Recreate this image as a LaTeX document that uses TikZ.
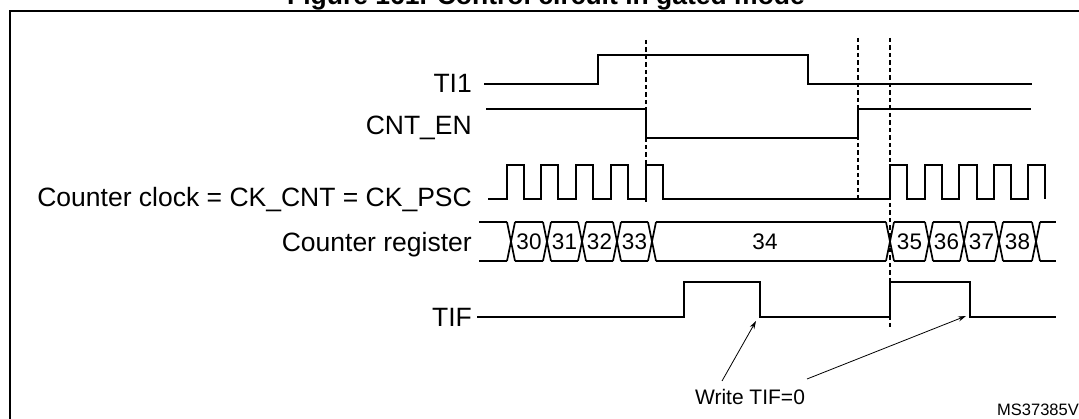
\documentclass[tikz,border=0pt]{standalone}
\usepackage{fontspec}
\setmainfont{Liberation Sans}
\usetikzlibrary{arrows.meta}
\begin{document}
\begin{tikzpicture}[x=1pt,y=-1pt,
  wave/.style={line width=1.7pt, line join=miter},
  guide/.style={line width=1.2pt, dash pattern=on 4.5pt off 3pt},
  framestyle/.style={line width=2pt},
  siglabel/.style={anchor=base east, inner sep=0pt, font=\fontsize{26.5}{30}\selectfont},
  cell/.style={inner sep=0pt, font=\fontsize{22.5}{26}\selectfont},
  notearrow/.style={-{Stealth[length=8pt,width=5pt]}, line width=0.8pt}]
\useasboundingbox (0,0) rectangle (1079,419);
\clip (0,0) rectangle (1079,419);

% title and frame
\node[anchor=base, inner sep=0pt, font=\fontsize{26.5}{30}\selectfont\bfseries] (title) at (546,5) {Figure 161. Control circuit in gated mode};
\draw[framestyle] (10,430) -- (10,11.5) -- (1090,11.5);

% signal labels
\node[siglabel] (lti) at (472,93) {TI1};
\node[siglabel] (len) at (472,135) {CNT\_EN};
\node[siglabel] (lck) at (472,207) {Counter clock = CK\_CNT = CK\_PSC};
\node[siglabel] (lreg) at (472,252) {Counter register};
\node[siglabel] (ltif) at (472,327) {TIF};

% guide lines
\draw[guide] (646,40) -- (646,203);
\draw[guide] (858,38) -- (858,200);
\draw[guide] (890,38) -- (890,330);

% TI1
\draw[wave] (484,84) -- (598,84) -- (598,55) -- (808,55) -- (808,84) -- (1032,84);
% CNT_EN
\draw[wave] (486,109) -- (646,109) -- (646,138) -- (858,138) -- (858,109) -- (1031,109);
% clock
\draw[wave] (488,199)
  foreach \r/\f in {507/524,541/558,576/593,611/628,646/663} { -- (\r,199) -- (\r,165) -- (\f,165) -- (\f,199) }
  foreach \r/\f in {890/907,925/942,959/977,994/1011,1028/1045} { -- (\r,199) -- (\r,165) -- (\f,165) -- (\f,199) };
% counter register
\def\hw{4}
\draw[wave] (479,222) -- (507,222) (479,261) -- (507,261);
\foreach \a/\b in {511/547,547/582,582/617,617/652,652/890,890/929,929/964,964/999,999/1036}
  \draw[wave] (\a+\hw,222) -- (\b-\hw,222) (\a+\hw,261) -- (\b-\hw,261);
\foreach \c in {511,547,582,617,652,890,929,964,999,1036}
  \draw[wave] (\c-\hw,222) -- (\c+\hw,261) (\c-\hw,261) -- (\c+\hw,222);
\draw[wave] (1040,222) -- (1056,222) (1040,261) -- (1056,261);
\node[cell] (c30) at (529,242) {30};
\node[cell] (c31) at (564.5,242) {31};
\node[cell] (c32) at (599.5,242) {32};
\node[cell] (c33) at (634.5,242) {33};
\node[cell] (c34) at (765,242) {34};
\node[cell] (c35) at (909.5,242) {35};
\node[cell] (c36) at (946.5,242) {36};
\node[cell] (c37) at (981.5,242) {37};
\node[cell] (c38) at (1017.5,242) {38};
% TIF
\draw[wave] (477,317) -- (684,317) -- (684,282) -- (760,282) -- (760,317) -- (890,317) -- (890,282) -- (970,282) -- (970,317) -- (1056,317);

% annotation
\node[anchor=base, inner sep=0pt, font=\fontsize{21}{24}\selectfont] (wr) at (750,405) {Write TIF=0};
\coordinate (s1) at (722,381);
\coordinate (s2) at (807,379);
\coordinate (t1) at (756,321);
\coordinate (t2) at (966,316);
\draw[notearrow] (s1) -- (t1);
\draw[notearrow] (s2) -- (t2);

\node[anchor=base west, inner sep=0pt, font=\fontsize{16.5}{19}\selectfont] (id) at (997,415) {MS37385V1};
\end{tikzpicture}
\end{document}
